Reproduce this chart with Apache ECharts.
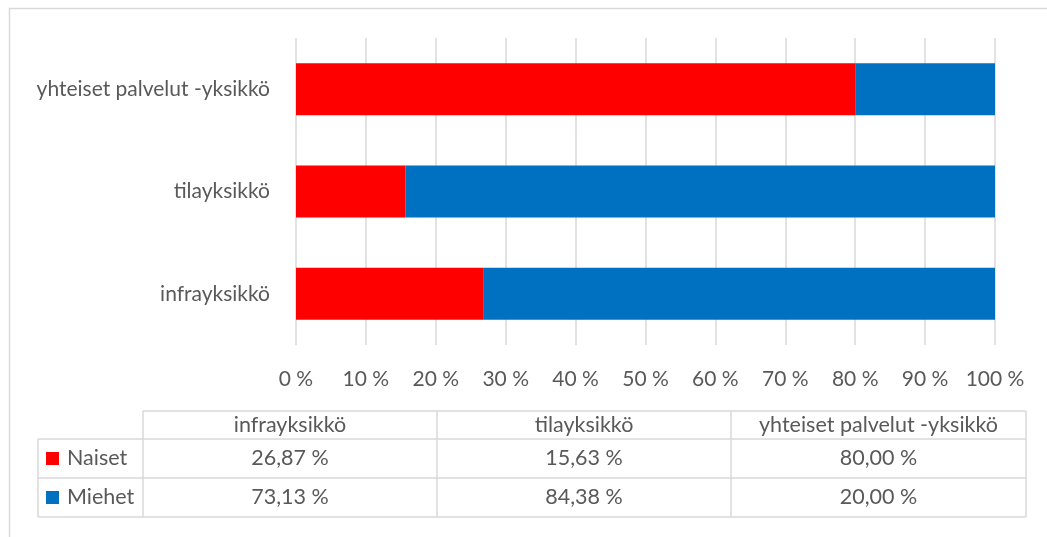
<!DOCTYPE html>
<html>
<head>
<meta charset="utf-8">
<script src="https://cdn.jsdelivr.net/npm/echarts@6/dist/echarts.min.js"></script>
<style>
	html, body { margin:0; padding:0; background:#fff; }
	#chart { width:1047px; height:537px; }
</style>
</head>
<body>
<div id="chart"></div>
<script>
	var categories = ['infrayksikkö', 'tilayksikkö', 'yhteiset palvelut -yksikkö'];
	var seriesNames = ['Naiset', 'Miehet'];
	var naiset = [26.87, 15.63, 80.00];
	var miehet = [73.13, 84.38, 20.00];
	var seriesColors = ['#ff0000', '#0070c0'];
	var xTicks = [0, 10, 20, 30, 40, 50, 60, 70, 80, 90, 100];

	var textColor = '#595959';
	var lineColor = '#d9d9d9';
	var fontFamily = 'Lato';

	function pct(v)
	{
		return v.toFixed(2).replace('.', ',') + ' %';
	}

	// data table under the chart
	function buildTable()
	{
		var els = [];
		var colX = [143, 437, 731, 1026];
		var legendLeft = 38;
		var rowY = [411, 439, 478, 517];
		var values = [naiset, miehet];
		var font = '21.5px "' + fontFamily + '"';

		// frame round the whole chart
		els.push({
			type:'rect',
			shape:{ x:9.5, y:8.5, width:1100, height:600 },
			style:{ fill:'none', stroke:lineColor, lineWidth:1.5 }
		});

		// horizontal lines
		els.push({ type:'line', shape:{ x1:colX[0], y1:rowY[0], x2:colX[3], y2:rowY[0] }, style:{ stroke:lineColor, lineWidth:1.5 } });
		for (var r = 1; r < rowY.length; r++) {
			els.push({ type:'line', shape:{ x1:legendLeft, y1:rowY[r], x2:colX[3], y2:rowY[r] }, style:{ stroke:lineColor, lineWidth:1.5 } });
		}
		// vertical lines
		els.push({ type:'line', shape:{ x1:legendLeft, y1:rowY[1], x2:legendLeft, y2:rowY[3] }, style:{ stroke:lineColor, lineWidth:1.5 } });
		for (var c = 0; c < colX.length; c++) {
			els.push({ type:'line', shape:{ x1:colX[c], y1:rowY[0], x2:colX[c], y2:rowY[3] }, style:{ stroke:lineColor, lineWidth:1.5 } });
		}

		// header
		categories.forEach(function(name, i){
			els.push({
				type:'text',
				x:(colX[i] + colX[i + 1]) / 2,
				y:(rowY[0] + rowY[1]) / 2,
				style:{ text:name, fill:textColor, font:font, align:'center', verticalAlign:'middle' }
			});
		});

		// rows
		seriesNames.forEach(function(name, s){
			var cy = (rowY[s + 1] + rowY[s + 2]) / 2;
			els.push({
				type:'rect',
				shape:{ x:46, y:cy - 6.5, width:13, height:13 },
				style:{ fill:seriesColors[s] }
			});
			els.push({
				type:'text',
				x:67,
				y:cy,
				style:{ text:name, fill:textColor, font:font, align:'left', verticalAlign:'middle' }
			});
			values[s].forEach(function(v, i){
				els.push({
					type:'text',
					x:(colX[i] + colX[i + 1]) / 2,
					y:cy,
					style:{ text:pct(v), fill:textColor, font:font, align:'center', verticalAlign:'middle' }
				});
			});
		});
		return els;
	}

	function chartBar()
	{
		var option = {
			animation:false,
			textStyle:{ fontFamily:fontFamily },
			grid:{
				left:296,
				right:52,
				top:38,
				bottom:192
			},
			xAxis:{
				type:'value',
				min:xTicks[0],
				max:xTicks[xTicks.length - 1],
				interval:xTicks[1] - xTicks[0],
				axisLine:{ show:false },
				axisTick:{ show:false },
				splitLine:{ show:true, lineStyle:{ color:lineColor, width:1.5 } },
				axisLabel:{
					color:textColor,
					fontSize:21,
					margin:24,
					formatter:'{value} %'
				}
			},
			yAxis:{
				type:'category',
				data:categories,
				axisLine:{ show:false },
				axisTick:{ show:false },
				axisLabel:{ color:textColor, fontSize:21, margin:26 }
			},
			series:[
				{
					name:seriesNames[0],
					type:'bar',
					stack:'total',
					data:naiset,
					barWidth:52,
					itemStyle:{ color:seriesColors[0] }
				},
				{
					name:seriesNames[1],
					type:'bar',
					stack:'total',
					data:miehet,
					barWidth:52,
					itemStyle:{ color:seriesColors[1] }
				}
			],
			graphic:buildTable()
		};
		var myChart = echarts.init(document.getElementById('chart'));
		myChart.setOption(option);
	}

	chartBar();
</script>
</body>
</html>
